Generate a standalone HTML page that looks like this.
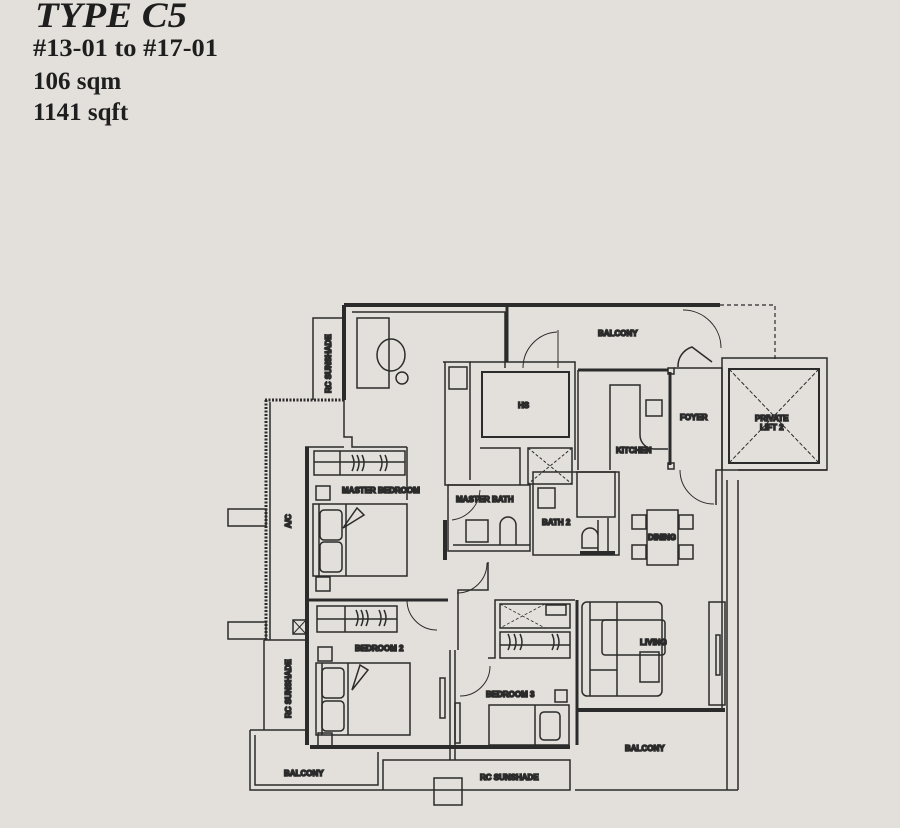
<!DOCTYPE html>
<html><head><style>
html,body{margin:0;padding:0;background:#e3e0db;}
svg{display:block}
.t{font-family:"Liberation Serif",serif;fill:#1e1e1e}
.l{font-family:"Liberation Sans",sans-serif;font-size:8px;font-weight:bold;fill:#2a2a2a}
</style></head><body>
<svg width="900" height="828" viewBox="0 0 900 828" xmlns="http://www.w3.org/2000/svg">
<rect width="900" height="828" fill="#e3e0db"/>
<text class="t" x="35" y="27" font-size="36" font-weight="bold" font-style="italic" textLength="152" lengthAdjust="spacingAndGlyphs">TYPE C5</text>
<text class="t" x="33" y="56" font-size="25" font-weight="bold" textLength="185" lengthAdjust="spacingAndGlyphs">#13-01 to #17-01</text>
<text class="t" x="33" y="89" font-size="25" font-weight="bold">106 sqm</text>
<text class="t" x="33" y="120" font-size="25" font-weight="bold">1141 sqft</text>

<g fill="none" stroke="#2b2b2b" stroke-width="1.5">
<path d="M344 305 H720" stroke-width="4"/>
<path d="M720 305 H775 V360" stroke-dasharray="4 3" stroke-width="1.2"/>
<path d="M344 305 V400" stroke-width="4"/>
<path d="M352 312 H505 V368" />
<path d="M507 306 V362" stroke-width="3"/>
<rect x="357" y="318" width="32" height="70"/>
<circle cx="402" cy="378" r="6"/>
<ellipse cx="391" cy="355" rx="14" ry="16"/>
<path d="M344 318 H313 V400"/>
<text class="l" transform="translate(331,393) rotate(-90)">RC SUNSHADE</text>
<path d="M265 400 H344" stroke-width="3" stroke-dasharray="2 1.5"/>
<path d="M266 400 V640" stroke-width="3" stroke-dasharray="2 1.5"/>
<path d="M270 402 V640"/>
<rect x="228" y="509" width="38" height="17"/>
<rect x="228" y="622" width="38" height="17"/>
<path d="M264 640 H305"/>
<text class="l" transform="translate(291,528) rotate(-90)">A/C</text>
<path d="M344 400 V437 H352 V447 H407"/>
<path d="M307 447 V745" stroke-width="4"/>
<path d="M305 447 H344"/>
<rect x="314" y="451" width="91" height="24"/>
<path d="M314 462 H405 M340 451 V475 M352 455 q4 8 0 16 M357 455 q4 8 0 16 M362 455 q4 8 0 16 M380 455 q4 8 0 16 M385 455 q4 8 0 16"/>
<rect x="316" y="486" width="14" height="14"/>
<rect x="316" y="577" width="14" height="14"/>
<rect x="313" y="504" width="94" height="72"/>
<path d="M319 504 V576 M346 504 V576"/>
<rect x="320" y="510" width="22" height="30" rx="4"/>
<rect x="320" y="542" width="22" height="30" rx="4"/>
<path d="M343 528 L357 508 L364 515 Z"/>
<text class="l" x="342" y="493">MASTER BEDROOM</text>
<path d="M443 362 H470 V480"/>
<path d="M445 362 V485 H480"/>
<rect x="449" y="367" width="18" height="22"/>
<path d="M470 362 H575 V460"/>
<rect x="482" y="372" width="87" height="65" stroke-width="2"/>
<text class="l" x="518" y="408">HS</text>
<path d="M523 368 a36 36 0 0 1 34 -36 M558 330 V368" stroke-width="1"/>
<path d="M480 448 H520 V485"/>
<rect x="528" y="448" width="44" height="36"/>
<path d="M528 448 L572 484 M572 448 L528 484" stroke-dasharray="3 2" stroke-width="1"/>
<rect x="448" y="485" width="82" height="66"/>
<path d="M453 545 H530" />
<rect x="466" y="520" width="22" height="22"/>
<path d="M500 545 V525 a8 8 0 0 1 16 0 V545"/>
<path d="M452 520 a32 32 0 0 0 28 -30" stroke-width="1"/>
<path d="M445 520 V560" stroke-width="4"/>
<text class="l" x="456" y="502">MASTER BATH</text>
<rect x="533" y="472" width="86" height="83"/>
<rect x="577" y="472" width="38" height="45"/>
<rect x="538" y="488" width="17" height="20"/>
<path d="M608 518 V552 H598 V520 M598 536 a8 8 0 0 0 -16 0 V548 H598"/>
<path d="M580 553 H615" stroke-width="4"/>
<text class="l" x="542" y="525">BATH 2</text>
<text class="l" x="598" y="336">BALCONY</text>
<path d="M578 370 H668" stroke-width="3"/>
<path d="M683 310 a38 38 0 0 1 38 38" stroke-width="1"/>
<path d="M678 367 a20 20 0 0 1 14 -20 L712 362"/>
<path d="M578 370 V470"/>
<path d="M610 470 V385 H640 V435 a14 14 0 0 0 14 14 H668"/>
<rect x="646" y="400" width="16" height="16"/>
<path d="M670 372 V465" stroke-width="3"/>
<rect x="668" y="368" width="6" height="6"/><rect x="668" y="463" width="6" height="6"/>
<text class="l" x="616" y="453">KITCHEN</text>
<path d="M674 368 H722 V470 H716 V505"/>
<path d="M680 470 a34 34 0 0 0 34 34" stroke-width="1"/>
<text class="l" x="680" y="420">FOYER</text>
<rect x="722" y="358" width="105" height="112" stroke-width="1.5"/>
<rect x="729" y="369" width="90" height="94" stroke-width="2"/>
<path d="M729 369 L819 463 M819 369 L729 463" stroke-dasharray="4 2" stroke-width="1"/>
<text class="l" x="755" y="421">PRIVATE</text>
<text class="l" x="760" y="430">LIFT 2</text>
<path d="M722 470 V710 M727 480 V790 M738 480 V790"/>
<path d="M738 470 H827"/>
<rect x="647" y="510" width="31" height="55"/>
<rect x="632" y="515" width="14" height="14"/><rect x="632" y="545" width="14" height="14"/>
<rect x="679" y="515" width="14" height="14"/><rect x="679" y="545" width="14" height="14"/>
<text class="l" x="648" y="540">DINING</text>
<path d="M577 600 V745" stroke-width="3"/>
<rect x="582" y="602" width="80" height="94" rx="5"/>
<path d="M590 602 V696 M590 620 H617 M590 670 H617 M617 602 V696"/>
<rect x="602" y="620" width="63" height="35" rx="3"/>
<rect x="640" y="652" width="19" height="30"/>
<rect x="709" y="602" width="16" height="103"/>
<rect x="716" y="635" width="4" height="40"/>
<text class="l" x="640" y="645">LIVING</text>
<path d="M577 710 H725" stroke-width="4"/>
<path d="M575 790 H738"/>
<text class="l" x="625" y="751">BALCONY</text>
<path d="M407 447 V500 M488 562 V590 H458 V650"/>
<path d="M307 600 H448" stroke-width="3"/>
<path d="M407 600 a30 30 0 0 0 30 30" stroke-width="1"/>
<path d="M487 563 a30 30 0 0 1 -30 30" stroke-width="1"/>
<rect x="317" y="606" width="80" height="26"/>
<path d="M317 619 H397 M345 606 V632 M356 610 q4 8 0 16 M361 610 q4 8 0 16 M366 610 q4 8 0 16 M379 610 q4 8 0 16 M384 610 q4 8 0 16"/>
<rect x="318" y="647" width="14" height="14"/>
<rect x="318" y="733" width="14" height="14"/>
<rect x="316" y="663" width="94" height="72"/>
<path d="M322 663 V735 M348 663 V735"/>
<rect x="322" y="668" width="22" height="30" rx="4"/>
<rect x="322" y="701" width="22" height="30" rx="4"/>
<path d="M352 690 L360 665 L368 670 Z"/>
<text class="l" x="355" y="651">BEDROOM 2</text>
<path d="M450 650 V760 M455 650 V760"/>
<rect x="440" y="678" width="5" height="40"/>
<rect x="455" y="703" width="5" height="40"/>
<path d="M488 658 H495 V600 H575"/>
<path d="M460 696 a30 30 0 0 0 30 -30" stroke-width="1"/>
<rect x="500" y="604" width="70" height="24"/>
<path d="M500 604 L545 628 M545 604 L500 628" stroke-dasharray="3 2" stroke-width="0.8"/>
<rect x="546" y="605" width="20" height="10"/>
<rect x="500" y="632" width="70" height="26"/>
<path d="M500 645 H570 M508 634 q4 8 0 16 M514 634 q4 8 0 16 M520 634 q4 8 0 16 M552 634 q4 8 0 16 M557 634 q4 8 0 16"/>
<rect x="555" y="690" width="12" height="12"/>
<rect x="489" y="705" width="80" height="40"/>
<path d="M535 705 V745"/>
<rect x="540" y="712" width="20" height="28" rx="4"/>
<text class="l" x="486" y="697">BEDROOM 3</text>
<path d="M310 747 H570" stroke-width="4"/>
<path d="M250 730 H305 M250 730 V790 H383 V760 H570 V790 H383"/>
<path d="M255 735 V785 H378 V752"/>
<text class="l" x="284" y="776">BALCONY</text>
<text class="l" x="480" y="780">RC SUNSHADE</text>
<rect x="434" y="778" width="28" height="27"/>
<path d="M264 640 V730"/>
<text class="l" transform="translate(291,718) rotate(-90)">RC SUNSHADE</text>
<rect x="293" y="620" width="13" height="14"/>
<path d="M293 620 L306 634 M306 620 L293 634" stroke-width="1"/>
</g>
</svg>
</body></html>
